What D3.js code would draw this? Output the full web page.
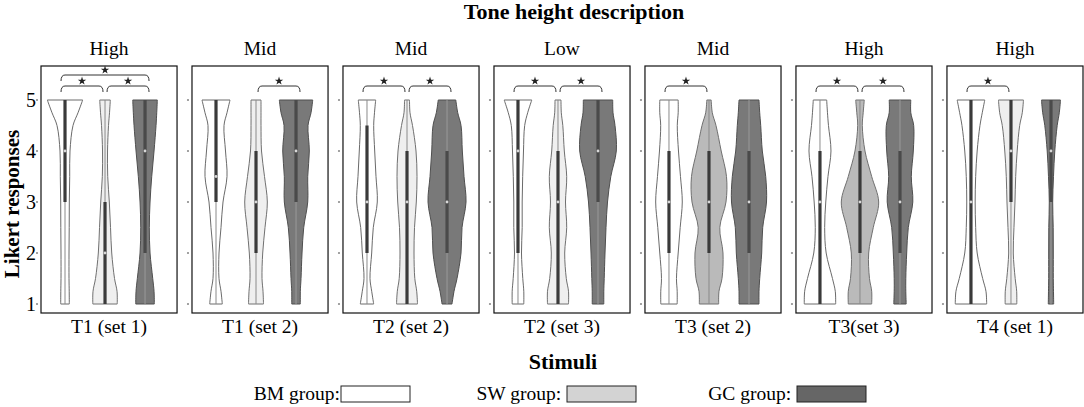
<!DOCTYPE html>
<html>
<head>
<meta charset="utf-8">
<script src="https://cdn.jsdelivr.net/npm/d3@7"></script>
<style>
    body { margin: 0; background: #fff; }
    text { font-family: "Liberation Serif", "Times New Roman", serif; fill: #000; }
</style>
</head>
<body>
<div id="container"></div>
<script>
const [svgW, svgH] = [1084, 407];

const panelTitles = ['High', 'Mid', 'Mid', 'Low', 'Mid', 'High', 'High'];
const panelLabels = ['T1 (set 1)', 'T1 (set 2)', 'T2 (set 2)', 'T2 (set 3)', 'T3 (set 2)', 'T3(set 3)', 'T4 (set 1)'];
const groups = ['BM group:', 'SW group: ', 'GC group: '];
const yTicks = [1, 2, 3, 4, 5];

// response levels the density profiles are read at
const levels = [1, 1.25, 1.5, 2, 2.5, 3, 3.5, 4, 4.5, 4.75, 5];

// density profiles, one row per group (BM, SW, GC), per panel
const density1 = [
    [4.3, 4.2, 4, 4, 4.2, 4.3, 4.7, 5, 8, 13, 17.7],
    [12.2, 12, 9.5, 6.7, 5.5, 4.3, 2.7, 2.5, 3.5, 4.5, 5.3],
    [9.3, 9, 7.7, 5, 4.3, 5, 6.7, 9, 11, 11.7, 12.3]
];
const density2 = [
    [6.3, 5, 3, 3, 5, 7, 11, 9.5, 8, 11, 14],
    [7.5, 7, 6, 6.7, 9, 11.3, 8.5, 5.5, 5, 5, 5],
    [4.3, 4.3, 5, 6, 7.7, 11.7, 11.7, 13.3, 12, 15, 16.7]
];
const density3 = [
    [6.7, 4.7, 3, 4.7, 6.3, 10.3, 9, 7.7, 6.7, 7.5, 8.7],
    [10.5, 9.7, 7.8, 7, 7.5, 9.3, 10, 9, 5.5, 3, 2.5],
    [5, 7, 10, 14, 15, 19, 17, 15.3, 14, 10.7, 8.8]
];
const density4 = [
    [5.8, 5.8, 4.8, 3.5, 4.2, 4.2, 4.7, 5.5, 6.7, 9.7, 13.8],
    [10.5, 10.5, 8.3, 6.7, 8.7, 7.5, 8.7, 6.3, 4.8, 3.3, 3],
    [5.8, 5.8, 6.2, 7, 8, 9.5, 12.8, 18.3, 17, 15, 14.7]
];
const density5 = [
    [8.2, 8.2, 7.5, 9.2, 11.2, 13.3, 11.5, 9.5, 8.3, 9.2, 9.2],
    [9.7, 10, 13, 14, 10.8, 17, 17.5, 12.2, 7, 3.3, 2.2],
    [10, 10, 10.7, 12.7, 13.7, 17.5, 16.7, 13.3, 11.7, 10.7, 10]
];
const density6 = [
    [15.7, 15.3, 12.5, 6.2, 4.7, 5.8, 8, 11, 8.5, 7.5, 6.7],
    [11.7, 11.7, 9.5, 8.7, 13.3, 18.7, 11.7, 5, 2.3, 3.2, 4.3],
    [6.2, 5.8, 5.8, 6.7, 8.3, 12.8, 11.3, 13.3, 13.7, 10.8, 10.8]
];
const density7 = [
    [15.7, 15, 11.7, 6.2, 4.7, 4.2, 4.7, 6.2, 9, 11.3, 13.8],
    [5.8, 5.7, 4.2, 2.3, 3, 4, 4.7, 6.2, 8.7, 11.3, 12.5],
    [2.7, 2.5, 2.3, 2.3, 2.2, 1.7, 2.5, 3.8, 6.2, 8.3, 9.5]
];
const densities = [density1, density2, density3, density4, density5, density6, density7];

// [q1, median, q3] per group, per panel
const quartiles = [
    [[3, 4, 5], [1, 2, 3], [2, 4, 5]],
    [[3, 3.5, 5], [2, 3, 4], [3, 4, 5]],
    [[2, 3, 4.5], [1, 3, 4], [2, 3, 4]],
    [[2, 4, 5], [1, 3, 4], [3, 4, 5]],
    [[2, 3, 4], [2, 3, 4], [2, 3, 4]],
    [[1, 3, 4], [2, 3, 4], [2, 3, 4]],
    [[1, 3, 5], [3, 4, 5], [3, 4, 5]]
];
const whiskers = [1, 5];

// significant pairs: [group a, group b, bracket tier]
const significance = [
    [[0, 1, 0], [1, 2, 0], [0, 2, 1]],
    [[1, 2, 0]],
    [[0, 1, 0], [1, 2, 0]],
    [[0, 1, 0], [1, 2, 0]],
    [[0, 1, 0]],
    [[0, 1, 0], [1, 2, 0]],
    [[0, 1, 0]]
];

const fills = ['#ffffff', '#efefef', '#797979'];
const fillsDark = ['#ffffff', '#bababa', '#797979'];   // T3 panels use a darker SW fill
const strokes = ['#6a6a6a', '#707070', '#4f4f4f'];
const legendFills = ['#ffffff', '#d3d3d3', '#666666'];

const panelX = d3.scaleBand().domain(d3.range(7)).range([41, 1083]).paddingInner(0.099);
const groupX = d3.scaleLinear().domain([0.4, 3.8]).range([0, panelX.bandwidth()]);
const y = d3.scaleLinear().domain([1, 5]).range([304, 100]);
const w = d3.scaleLinear().domain([0, 20]).range([0, 20]);
const PANEL_TOP = 66, PANEL_BOTTOM = 313;
const star = d3.symbol().type(d3.symbolStar).size(22);

function renderViolin(g, cx, dens, q, i, dark) {
    let pts = levels.map(function (l, k) { return {v: l, d: dens[k]}; });
    let area = d3.area()
        .curve(d3.curveCatmullRom.alpha(0.5))
        .y(function (d) { return y(d.v); })
        .x0(function (d) { return cx - w(d.d); })
        .x1(function (d) { return cx + w(d.d); });

    g.append('path').attr('d', area(pts))
        .attr('fill', dark ? fillsDark[i] : fills[i])
        .attr('stroke', strokes[i]).attr('stroke-width', 1);

    // whisker
    g.append('line').attr('x1', cx).attr('x2', cx)
        .attr('y1', y(whiskers[0])).attr('y2', y(whiskers[1]))
        .attr('stroke', i === 2 ? '#9a9a9a' : '#8a8a8a').attr('stroke-width', 1);
    // box
    g.append('line').attr('x1', cx).attr('x2', cx)
        .attr('y1', y(q[0])).attr('y2', y(q[2]))
        .attr('stroke', i === 2 ? '#4a4a4a' : '#3a3a3a').attr('stroke-width', 3.2);
    // median
    g.append('circle').attr('cx', cx).attr('cy', y(q[1])).attr('r', 1.4)
        .attr('fill', '#d8d8d8');
}

function renderBracket(g, a, b, tier) {
    let x1 = groupX(a + 1) + (a === 1 ? 2 : -4);
    let x2 = groupX(b + 1) + (b === 1 ? -2 : 4);
    let yy = y(5) - 14 - tier * 11;
    g.append('path')
        .attr('d', 'M' + x1 + ',' + (yy + 6) + 'Q' + x1 + ',' + yy + ' ' + (x1 + 4) + ',' + yy +
            'L' + (x2 - 4) + ',' + yy + 'Q' + x2 + ',' + yy + ' ' + x2 + ',' + (yy + 6))
        .attr('fill', 'none').attr('stroke', '#333').attr('stroke-width', 1);
    g.append('path').attr('d', star)
        .attr('transform', 'translate(' + ((x1 + x2) / 2) + ',' + (yy - 5) + ')')
        .attr('fill', '#222');
}

function renderPanel(svg, p) {
    let g = svg.append('g').attr('transform', 'translate(' + panelX(p) + ',0)');
    let bw = panelX.bandwidth();

    g.append('text').attr('x', bw / 2).attr('y', 55).attr('text-anchor', 'middle')
        .style('font-size', '19.5px').text(panelTitles[p]);
    g.append('text').attr('x', bw / 2).attr('y', 333).attr('text-anchor', 'middle')
        .style('font-size', '19.5px').text(panelLabels[p]);

    // y ticks
    g.selectAll('line.tick').data(yTicks).enter().append('line').attr('class', 'tick')
        .attr('x1', -5).attr('x2', -3)
        .attr('y1', function (d) { return y(d); }).attr('y2', function (d) { return y(d); })
        .attr('stroke', '#444').attr('stroke-width', 1);
    if (p === 0) {
        g.selectAll('text.tl').data(yTicks).enter().append('text').attr('class', 'tl')
            .attr('x', -5).attr('y', function (d) { return y(d) + 7; })
            .attr('text-anchor', 'end').style('font-size', '20px')
            .text(function (d) { return d; });
    }

    for (let i = 0; i < 3; i++) {
        renderViolin(g, groupX(i + 1), densities[p][i], quartiles[p][i], i, p === 4 || p === 5);
    }
    significance[p].forEach(function (s) { renderBracket(g, s[0], s[1], s[2]); });

    g.append('rect').attr('x', 0).attr('y', PANEL_TOP).attr('width', bw)
        .attr('height', PANEL_BOTTOM - PANEL_TOP)
        .attr('fill', 'none').attr('stroke', '#111').attr('stroke-width', 1.2);
}

function renderLegend(svg) {
    let lx = [341, 567, 797];
    groups.forEach(function (name, i) {
        svg.append('text').attr('x', lx[i] - 1).attr('y', 400).attr('text-anchor', 'end')
            .style('font-size', '19.5px').style('white-space', 'pre').attr('xml:space', 'preserve')
            .text(name);
        svg.append('rect').attr('x', lx[i]).attr('y', 386).attr('width', 69).attr('height', 16)
            .attr('fill', legendFills[i]).attr('stroke', '#222').attr('stroke-width', 1);
    });
}

function main() {
    let svg = d3.select('#container').append('svg').attr('width', svgW).attr('height', svgH);

    svg.append('text').attr('x', 574).attr('y', 19).attr('text-anchor', 'middle')
        .style('font-size', '22px').style('font-weight', 'bold').text('Tone height description');
    svg.append('text').attr('x', 563).attr('y', 369).attr('text-anchor', 'middle')
        .style('font-size', '22px').style('font-weight', 'bold').text('Stimuli');
    svg.append('text').attr('transform', 'translate(19,204) rotate(-90)').attr('text-anchor', 'middle')
        .style('font-size', '21px').style('font-weight', 'bold').text('Likert responses');

    for (let p = 0; p < 7; p++) {
        renderPanel(svg, p);
    }
    renderLegend(svg);
}

main();
</script>
</body>
</html>
